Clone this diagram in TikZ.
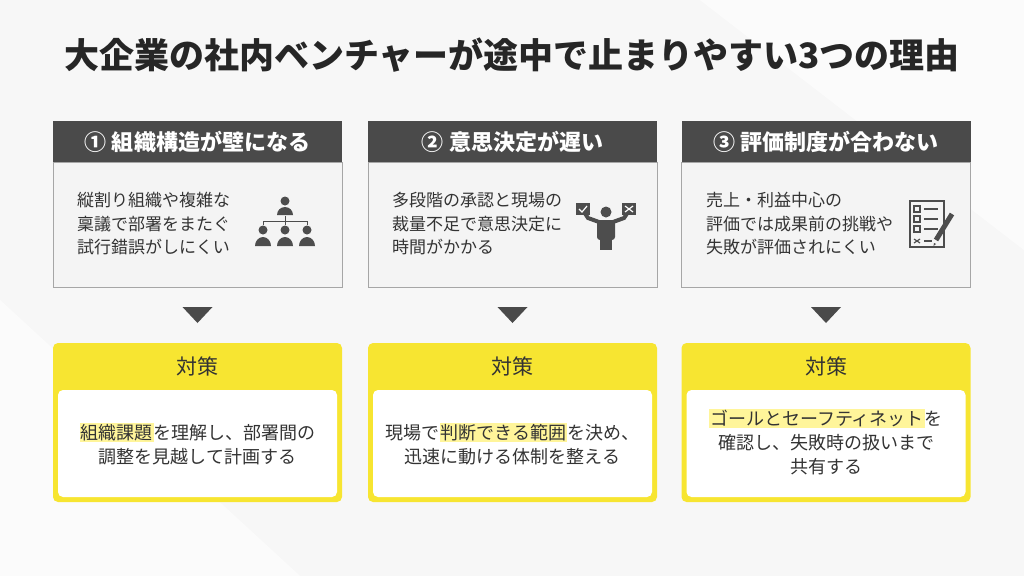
\documentclass[tikz,border=0pt]{standalone}
\usepackage{fontspec}
\setmainfont{Noto Sans CJK JP}
\usetikzlibrary{positioning}
\definecolor{headgray}{HTML}{4A4A4A}
\definecolor{boxgray}{HTML}{F4F4F4}
\definecolor{icongray}{HTML}{4D4D4D}
\definecolor{tyellow}{HTML}{F7E531}
\definecolor{hlyellow}{HTML}{FFF59A}
\definecolor{txt}{HTML}{333333}
\newcommand{\hlt}[1]{{\setlength{\fboxsep}{1pt}\colorbox{hlyellow}{#1}}}
\tikzset{
  head/.style={fill=headgray, text=white, minimum width=289pt, minimum height=41pt, inner sep=0pt, font=\fontsize{22}{26}\selectfont\bfseries},
  body/.style={fill=boxgray, draw=gray!70, line width=1pt, minimum width=289pt, minimum height=125pt, inner sep=0pt},
  reason/.style={text=txt, align=left, font=\fontsize{17}{23.5}\selectfont, inner sep=0pt},
  ybox/.style={fill=tyellow, rounded corners=5pt, minimum width=289pt, minimum height=159pt, inner sep=0pt},
  wbox/.style={fill=white, rounded corners=5pt, minimum width=279pt, minimum height=107pt, inner sep=0pt},
  measure/.style={text=txt, align=center, font=\fontsize{18}{24}\selectfont, inner sep=0pt},
  tri/.style={fill=headgray, draw=none}
}
\begin{document}
\begin{tikzpicture}[x=1pt, y=-1pt]
  \fill[gray!6] (0,0) rectangle (1024,576);
  \useasboundingbox (0,0) rectangle (1024,576);
  \fill[white, opacity=0.6] (0,576) -- (0,300) -- (300,576) -- cycle;
  \fill[white, opacity=0.6] (700,0) -- (1024,0) -- (1024,250) -- cycle;
  \node[text=black!85, font=\fontsize{35}{40}\selectfont\bfseries] (title) at (512,55) {大企業の社内ベンチャーが途中で止まりやすい3つの理由};
  % columns
  \foreach \cx/\i/\hd in {197.5/1/① 組織構造が壁になる, 512.5/2/② 意思決定が遅い, 826/3/③ 評価制度が合わない}{
    \node[body] (body\i) at (\cx,224.5) {};
    \node[head] (head\i) at (\cx,141.5) {\hd};
    \fill[tri] (\cx-15,307) -- (\cx+15,307) -- (\cx,323) -- cycle;
    \node[ybox] (ybox\i) at (\cx,422.5) {};
    \node[wbox] (wbox\i) at (\cx,443.5) {};
    \node[font=\fontsize{21}{24}\selectfont, text=txt] (tsaku\i) at (\cx,366) {対策};
  }
  % reasons
  \node[reason, anchor=west] (r1) at (77,224) {縦割り組織や複雑な\\稟議で部署をまたぐ\\試行錯誤がしにくい};
  \node[reason, anchor=west] (r2) at (392,224) {多段階の承認と現場の\\裁量不足で意思決定に\\時間がかかる};
  \node[reason, anchor=west] (r3) at (706,224) {売上・利益中心の\\評価では成果前の挑戦や\\失敗が評価されにくい};
  % measures
  \node[measure] (m1) at (197.5,444) {\hlt{組織課題}を理解し、部署間の\\調整を見越して計画する};
  \node[measure] (m2) at (512.5,444) {現場で\hlt{判断できる範囲}を決め、\\迅速に動ける体制を整える};
  \node[measure] (m3) at (826,442) {\hlt{ゴールとセーフティネット}を\\確認し、失敗時の扱いまで\\共有する};
  % icon 1: org chart
  \begin{scope}[shift={(285,224)}, icongray]
    \fill (0,-23) circle (4.5);
    \fill (-8,-9) arc (180:360:8 and 8) -- cycle;
    \draw[line width=1] (0,-8) -- (0,-3) (-22,-3) -- (22,-3) (-22,-3) -- (-22,1) (22,-3) -- (22,1) (0,-3) -- (0,1);
    \foreach \dx in {-22,0,22}{
      \fill (\dx,6) circle (4.5);
      \fill (\dx-8,22) arc (180:360:8 and 9) -- cycle;
    }
  \end{scope}
  % icon 2: person with two cards
  \begin{scope}[shift={(606,224)}, icongray]
    \fill (0,-12) circle (5.5);
    \fill[rounded corners=3] (-9,-4) rectangle (9,16);
    \fill (-6,16) rectangle (6,26);
    \draw[line width=4, line cap=round] (-7,-2) -- (-18,-6) -- (-22,-12);
    \draw[line width=4, line cap=round] (7,-2) -- (18,-6) -- (22,-12);
    \fill (-30,-21) rectangle (-16,-9);
    \draw[white, line width=1.2] (-27,-15) -- (-24,-12) -- (-19,-18);
    \fill (16,-21) rectangle (30,-9);
    \draw[white, line width=1.2] (19,-18) -- (27,-12) (19,-12) -- (27,-18);
  \end{scope}
  % icon 3: checklist with pencil
  \begin{scope}[shift={(930,224)}, icongray]
    \draw[line width=1.5] (-20,-23) -- (14,-23) -- (14,23) -- (-20,23) -- cycle;
    \foreach \yy in {-15,-5,5}{
      \draw[line width=1.2] (-16,\yy-3) rectangle (-10,\yy+3);
      \draw[line width=1.5] (-6,\yy) -- (8,\yy);
    }
    \draw[line width=1.2] (-16,15) -- (-10,19) (-16,19) -- (-10,15);
    \draw[line width=1.5] (-6,17) -- (2,17);
    \draw[line width=5] (22,-10) -- (6,16);
    \fill (4,19) -- (3.5,22) -- (6,20) -- cycle;
  \end{scope}
\end{tikzpicture}
\end{document}
